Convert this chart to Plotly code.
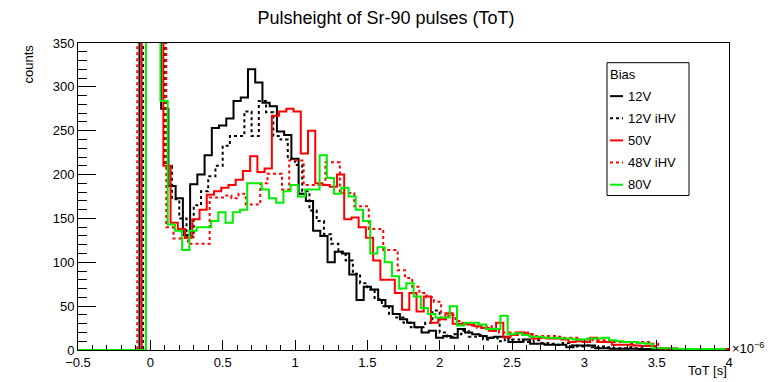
import numpy as np
import plotly.graph_objects as go

# ---------------- data (ToT in units of 1e-6 s) ----------------
bin_width = 0.05
axis_min = -0.5

series_names = ["12V", "12V iHV", "50V", "48V iHV", "80V"]
series_colors = ["black", "black", "red", "red", "#00ee00"]
series_dash = ["solid", "dot", "solid", "dot", "solid"]

start_12V = -0.075
counts_12V = [1400, 1600, 900, 275, 187, 173, 131, 189, 200, 222, 253, 256, 264, 284, 288,
              320, 305, 282, 278, 249, 245, 218, 178, 170, 136, 130, 100, 112, 110, 86,
              57, 72, 69, 57, 50, 41, 35, 31, 26, 20, 22, 14, 16, 14, 24,
              20, 18, 16, 14, 15, 15, 9, 9, 12, 7, 7, 6, 6, 6, 3,
              5, 5, 5, 2, 2, 1.5, 1.5, 1.5, 1.5, 1, 1, 0.5, 0.5, 0.5, 0.5,
              0.3, 0.3, 0.3, 0.3, 0.3, 0.3]

start_12ViHV = -0.05
counts_12ViHV = [1300, 1700, 800, 210, 172, 150, 129, 165, 181, 198, 210, 233, 244, 244,
                 272, 244, 284, 271, 244, 240, 218, 211, 181, 159, 147, 132, 121, 112,
                 102, 87, 76, 69, 58, 50, 41, 37, 31, 26, 26, 31, 45, 20, 15, 18, 22,
                 15, 17, 12, 14, 10, 14, 12, 10, 9, 11, 8, 7, 6, 8, 5, 4, 5, 3, 4, 3,
                 2, 2, 3, 2, 1, 1, 0.5, 0.5, 0.5, 0.5, 0.3, 0.3, 0.3, 0.3, 0.3, 0.3]

start_50V = -0.06
counts_50V = [1500, 1800, 1000, 210, 145, 138, 128, 149, 160, 177, 181, 185, 188, 194,
              204, 221, 203, 207, 267, 272, 275, 272, 224, 250, 190, 188, 186, 200, 149,
              151, 140, 128, 102, 80, 80, 65, 46, 65, 44, 61, 31, 35, 42, 30, 30, 29,
              27, 25, 22, 31, 14.5, 17, 20, 18, 13, 14, 13, 13, 12, 9, 10, 9, 14, 9,
              9, 6, 6, 6, 5, 4.5, 4.5, 2, 2, 2, 1, 1, 1, 1, 1, 1, 1, 1]

start_48ViHV = -0.09
counts_48ViHV = [1200, 1500, 1600, 700, 140, 127, 128, 121, 121, 121, 174, 174, 176, 173,
                 178, 166, 166, 190, 201, 201, 183, 216, 216, 188, 188, 188, 214, 214,
                 179, 179, 164, 164, 138, 138, 114, 114, 91, 82, 72, 65, 60, 55, 35, 40,
                 33, 30, 28, 25, 27, 22, 20, 20, 20, 20, 18, 16, 16, 16, 15, 14, 14, 12,
                 12, 11, 11, 9, 9, 9, 8, 9, 9, 7, 2, 1, 1, 1, 1, 1, 1, 0.5, 0.5]

start_80V = -0.03
counts_80V = [1500, 1100, 284, 143, 136, 114, 136, 140, 140, 147, 157, 145, 157, 160, 190,
              190, 183, 173, 168, 181, 188, 175, 183, 183, 222, 196, 178, 185, 175, 160,
              147, 110, 117, 100, 84, 70, 76, 61, 48, 41, 37, 37, 50, 28, 31, 31, 29,
              24, 24, 39, 18, 19, 17, 15, 15, 14, 14, 13, 13, 12, 12, 13, 13, 14, 11,
              10, 9, 9, 8, 7, 2, 2, 2, 1.5, 1, 1, 1, 1, 1, 1]

series_starts = [start_12V, start_12ViHV, start_50V, start_48ViHV, start_80V]
series_counts = [counts_12V, counts_12ViHV, counts_50V, counts_48ViHV, counts_80V]

x_ticks = [-0.5, 0, 0.5, 1, 1.5, 2, 2.5, 3, 3.5, 4]

# ---------------- layout geometry ----------------
W, H = 772, 382
ML, MR, MT, MB = 78, 43, 43, 27
PW, PH = W - ML - MR, H - MT - MB
FONT = "Liberation Sans, Arial, Helvetica, sans-serif"


def px_x(px):
    return (px - ML) / PW


def px_y(py):
    return (MT + PH - py) / PH


fig = go.Figure()

for name, color, dash, start, counts in zip(series_names, series_colors, series_dash,
                                            series_starts, series_counts):
    edges = start + bin_width * np.arange(len(counts) + 1)
    xs = np.concatenate([[axis_min], edges])
    ys = np.concatenate([[0], counts, [0]])
    fig.add_trace(go.Scatter(x=xs, y=ys, mode="lines", name=name,
                             line=dict(color=color, width=2, dash=dash, shape="hv"),
                             showlegend=False, hoverinfo="skip"))

fig.update_layout(
    width=W, height=H,
    margin=dict(l=ML, r=MR, t=MT, b=MB, pad=0),
    paper_bgcolor="white", plot_bgcolor="white",
    font=dict(family=FONT, size=13, color="black"),
    title=dict(text="Pulsheight of Sr-90 pulses (ToT)", x=0.5, xanchor="center",
               y=1 - 18 / H, yanchor="middle", yref="container",
               font=dict(family=FONT, size=18, color="black")),
    showlegend=False,
)

fig.update_xaxes(range=[-0.5, 4], tickvals=x_ticks, showgrid=False, zeroline=False,
                 showline=True, linecolor="black", linewidth=1, mirror=True,
                 ticks="inside", ticklen=10, tickwidth=1, tickcolor="black",
                 minor=dict(dtick=0.1, ticks="inside", ticklen=5, tickwidth=1,
                            tickcolor="black", showgrid=False),
                 tickfont=dict(size=13))
fig.update_yaxes(range=[0, 350], dtick=50, showgrid=False, zeroline=False,
                 showline=True, linecolor="black", linewidth=1, mirror=True,
                 ticks="inside", ticklen=18, tickwidth=1, tickcolor="black",
                 minor=dict(dtick=10, ticks="inside", ticklen=9, tickwidth=1,
                            tickcolor="black", showgrid=False),
                 tickfont=dict(size=13))

annotations = [
    dict(text="counts", x=px_x(28), y=1.0, xref="paper", yref="paper",
         xanchor="center", yanchor="top", textangle=-90, showarrow=False,
         font=dict(size=13)),
    dict(text="ToT [s]", x=1.0, y=px_y(376), xref="paper", yref="paper",
         xanchor="right", yanchor="middle", showarrow=False, font=dict(size=13)),
    dict(text="×10<sup>−6</sup>", x=px_x(730), y=px_y(353), xref="paper", yref="paper",
         xanchor="left", yanchor="middle", showarrow=False, font=dict(size=13)),
]

# legend (drawn manually to match the compact ROOT legend)
shapes = [dict(type="rect", xref="paper", yref="paper",
               x0=px_x(607), x1=px_x(689), y0=px_y(198), y1=px_y(63),
               line=dict(color="black", width=1), fillcolor="white", layer="above")]
annotations.append(dict(text="Bias", x=px_x(608), y=px_y(75), xref="paper", yref="paper",
                        xanchor="left", yanchor="middle", showarrow=False,
                        font=dict(size=13)))
entry_y = [97, 119.5, 142, 164.5, 187]
for name, color, dash, ey in zip(series_names, series_colors, series_dash, entry_y):
    shapes.append(dict(type="line", xref="paper", yref="paper",
                       x0=px_x(610), x1=px_x(623), y0=px_y(ey), y1=px_y(ey),
                       line=dict(color=color, width=2, dash=dash), layer="above"))
    annotations.append(dict(text=name, x=px_x(626), y=px_y(ey), xref="paper",
                            yref="paper", xanchor="left", yanchor="middle",
                            showarrow=False, font=dict(size=13)))

fig.update_layout(shapes=shapes, annotations=annotations)

fig.write_html("out.html")
